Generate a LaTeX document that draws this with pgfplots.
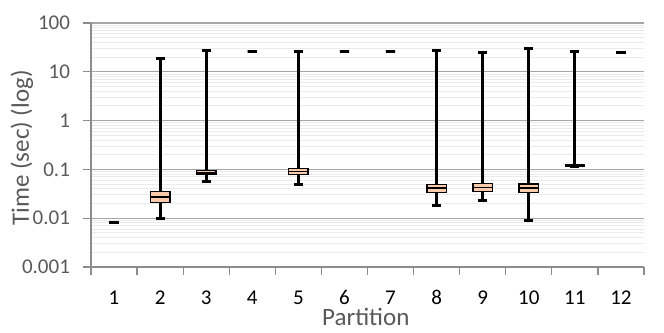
\documentclass[border=0pt]{standalone}
\usepackage{pgfplots}
\pgfplotsset{compat=1.18}
\usepgfplotslibrary{statistics}
\usepackage{fontspec}
\setmainfont{Carlito}
\definecolor{boxfill}{HTML}{F8CBAD}
\definecolor{lblgray}{HTML}{595959}
\definecolor{axgray}{HTML}{8C8C8C}
\definecolor{majgrid}{HTML}{A6A6A6}
\definecolor{mingrid}{HTML}{EBEBEB}
\begin{document}
\begin{tikzpicture}
\useasboundingbox (-45.5pt,-32.5pt) rectangle (286.5pt,133.5pt);
\begin{axis}[
  scale only axis,
  width=276.5pt, height=122pt,
  ymode=log,
  ymin=0.001, ymax=100,
  xmin=0.5, xmax=12.5,
  axis x line*=bottom, axis y line*=left,
  axis line style={draw=axgray, line width=0.6pt, -},
  xtick={0.5,1.5,...,12.5},
  xticklabels={1,2,3,4,5,6,7,8,9,10,11,12},
  x tick label as interval,
  ytick={0.001,0.01,0.1,1,10,100},
  yticklabels={0.001,0.01,0.1,1,10,100},
  minor ytick={0.002,0.003,0.004,0.005,0.006,0.007,0.008,0.009,
    0.02,0.03,0.04,0.05,0.06,0.07,0.08,0.09,
    0.2,0.3,0.4,0.5,0.6,0.7,0.8,0.9,
    2,3,4,5,6,7,8,9,20,30,40,50,60,70,80,90},
  ymajorgrids, yminorgrids,
  major grid style={draw=majgrid, line width=0.6pt},
  minor grid style={draw=mingrid, line width=0.5pt},
  tick align=outside,
  major tick length=4pt, minor tick length=0pt,
  tick style={draw=axgray, line width=0.6pt},
  /pgf/number format/assume math mode=true,
  xticklabel style={font=\fontsize{10.5}{12}\selectfont, text=black, anchor=north, text height=7pt, text depth=0pt, yshift=-4pt},
  yticklabel style={font=\fontsize{10.5}{12}\selectfont, text=lblgray, xshift=-3pt},
  ylabel={Time (sec) (log)},
  xlabel={Partition},
  ylabel style={font=\fontsize{12.5}{14}\selectfont, text=lblgray, at={(axis description cs:-0.1248,0.488)}, anchor=center},
  xlabel style={font=\fontsize{12.5}{14}\selectfont, text=lblgray, at={(axis description cs:0.497,-0.205)}, anchor=center},
  boxplot/draw direction=y,
  boxplot/box extend=0.42,
  boxplot/whisker extend=0.2,
  boxplot/every box/.style={draw=black, fill=boxfill, line width=0.7pt},
  boxplot/every median/.style={draw=black, line width=0.8pt},
  boxplot/every whisker/.style={draw=black, line width=1.5pt},
  clip=false,
]
% single-value partitions (drawn as short dashes)
\addplot[boxplot prepared={draw position=1, lower whisker=0.0083, lower quartile=0.0083, median=0.0083, upper quartile=0.0083, upper whisker=0.0083}, boxplot/box extend=0.2, boxplot/every box/.style={draw=black, line width=1.5pt}] coordinates {};
\addplot[boxplot prepared={draw position=2, lower whisker=0.010, lower quartile=0.0207, median=0.027, upper quartile=0.0353, upper whisker=19}] coordinates {};
\addplot[boxplot prepared={draw position=3, lower whisker=0.0567, lower quartile=0.080, median=0.087, upper quartile=0.094, upper whisker=27}] coordinates {};
\addplot[boxplot prepared={draw position=4, lower whisker=25.7, lower quartile=25.7, median=25.7, upper quartile=25.7, upper whisker=25.7}, boxplot/box extend=0.2, boxplot/every box/.style={draw=black, line width=1.5pt}] coordinates {};
\addplot[boxplot prepared={draw position=5, lower whisker=0.0487, lower quartile=0.079, median=0.091, upper quartile=0.103, upper whisker=25.7}] coordinates {};
\addplot[boxplot prepared={draw position=6, lower whisker=26.5, lower quartile=26.5, median=26.5, upper quartile=26.5, upper whisker=26.5}, boxplot/box extend=0.2, boxplot/every box/.style={draw=black, line width=1.5pt}] coordinates {};
\addplot[boxplot prepared={draw position=7, lower whisker=26.5, lower quartile=26.5, median=26.5, upper quartile=26.5, upper whisker=26.5}, boxplot/box extend=0.2, boxplot/every box/.style={draw=black, line width=1.5pt}] coordinates {};
\addplot[boxplot prepared={draw position=8, lower whisker=0.0178, lower quartile=0.0339, median=0.041, upper quartile=0.0494, upper whisker=27}] coordinates {};
\addplot[boxplot prepared={draw position=9, lower whisker=0.0229, lower quartile=0.0355, median=0.0423, upper quartile=0.051, upper whisker=25}] coordinates {};
\addplot[boxplot prepared={draw position=10, lower whisker=0.0089, lower quartile=0.0334, median=0.041, upper quartile=0.0504, upper whisker=29.5}] coordinates {};
\addplot[boxplot prepared={draw position=11, lower whisker=0.116, lower quartile=0.117, median=0.12, upper quartile=0.124, upper whisker=25.7}] coordinates {};
\addplot[boxplot prepared={draw position=12, lower whisker=24.5, lower quartile=24.5, median=24.5, upper quartile=24.5, upper whisker=24.5}, boxplot/box extend=0.2, boxplot/every box/.style={draw=black, line width=1.5pt}] coordinates {};
\end{axis}
\end{tikzpicture}
\end{document}
